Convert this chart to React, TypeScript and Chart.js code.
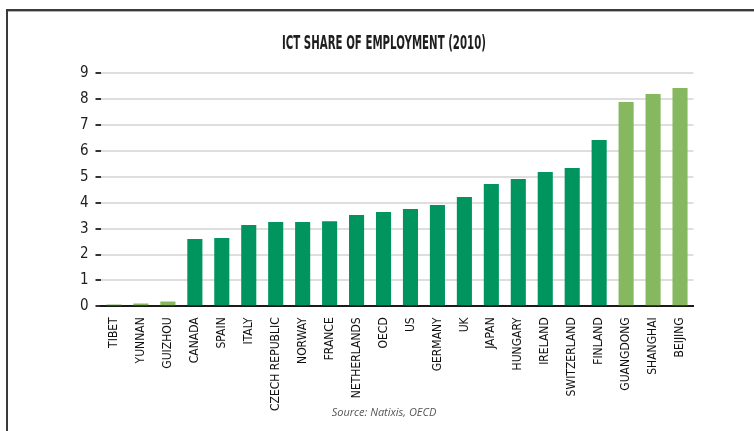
import React, { useEffect, useRef } from "react";
import { Chart, registerables } from "chart.js";

Chart.register(...registerables);

const categories = [
  "TIBET", "YUNNAN", "GUIZHOU", "CANADA", "SPAIN", "ITALY", "CZECH REPUBLIC",
  "NORWAY", "FRANCE", "NETHERLANDS", "OECD", "US", "GERMANY", "UK", "JAPAN",
  "HUNGARY", "IRELAND", "SWITZERLAND", "FINLAND", "GUANGDONG", "SHANGHAI", "BEIJING",
];
const values = [
  0.07, 0.11, 0.19, 2.6, 2.64, 3.14, 3.26, 3.26, 3.29, 3.53, 3.64, 3.76, 3.91,
  4.22, 4.72, 4.92, 5.19, 5.34, 6.42, 7.89, 8.2, 8.43,
];
const chineseRegions = ["TIBET", "YUNNAN", "GUIZHOU", "GUANGDONG", "SHANGHAI", "BEIJING"];
const yMin = 0;
const yMax = 9;
const yStep = 1;
const titleText = "ICT SHARE OF EMPLOYMENT (2010)";
const sourceText = "Source: Natixis, OECD";

const DARK_GREEN = "#00955f";
const LIGHT_GREEN = "#86b95f";
const NARROW = '"Liberation Sans Narrow", "DejaVu Sans Condensed", "Liberation Sans", sans-serif';

const decorPlugin = {
  id: "decor",
  beforeDraw(chart: any) {
    const ctx = chart.ctx;
    ctx.save();
    ctx.fillStyle = "#ffffff";
    ctx.fillRect(0, 0, chart.width, chart.height);
    ctx.fillStyle = "#3a3a3a";
    ctx.fillRect(6, 9, chart.width - 6, 2);
    ctx.fillRect(6, 9, 2, chart.height - 9);
    ctx.fillStyle = "#b0b0b0";
    ctx.fillRect(8, 11, chart.width - 8, 1);
    ctx.restore();
  },
  afterDraw(chart: any) {
    const ctx = chart.ctx;
    ctx.save();
    ctx.font = "bold 20px " + NARROW;
    ctx.fillStyle = "#1e1e1e";
    ctx.textAlign = "center";
    ctx.textBaseline = "middle";
    const w = ctx.measureText(titleText).width;
    const sx = Math.min(1, 204 / w);
    ctx.translate(384, 44);
    ctx.scale(sx, 1);
    ctx.fillText(titleText, 0, 0);
    ctx.restore();

    ctx.save();
    ctx.font = 'italic 11px "Open Sans", "DejaVu Sans", sans-serif';
    ctx.fillStyle = "#555555";
    ctx.textAlign = "center";
    ctx.textBaseline = "middle";
    ctx.fillText(sourceText, 384, 413);
    ctx.restore();
  },
};

export default function App() {
  const ref = useRef<HTMLCanvasElement | null>(null);

  useEffect(() => {
    if (!ref.current) return;
    const chart = new Chart(ref.current, {
      type: "bar",
      data: {
        labels: categories,
        datasets: [
          {
            data: values,
            backgroundColor: categories.map((c) =>
              chineseRegions.includes(c) ? LIGHT_GREEN : DARK_GREEN
            ),
            borderWidth: 0,
            barPercentage: 0.56,
            categoryPercentage: 1,
          },
        ],
      },
      options: {
        animation: false,
        responsive: false,
        devicePixelRatio: 1,
        layout: { padding: { left: 0, right: 60.5, top: 73.3, bottom: 0 } },
        plugins: {
          legend: { display: false },
          title: { display: false },
          tooltip: { enabled: false },
        },
        scales: {
          x: {
            grid: { display: false, drawTicks: false },
            border: { display: true, color: "#1a1a1a", width: 2 },
            ticks: {
              autoSkip: false,
              maxRotation: 90,
              minRotation: 90,
              padding: 11,
              color: "#111111",
              font: { family: NARROW, size: 12 },
            },
            afterFit(scale: any) {
              scale.height = 431 - 306.3;
            },
          },
          y: {
            min: yMin,
            max: yMax,
            ticks: {
              stepSize: yStep,
              padding: 7,
              color: "#1e1e1e",
              font: { family: NARROW, size: 15 },
            },
            grid: {
              color: "#dedede",
              lineWidth: 2,
              tickLength: 5,
              tickColor: "#333333",
              tickWidth: 2,
            },
            border: { display: false },
            afterFit(scale: any) {
              scale.width = 100.5;
            },
          },
        },
      },
      plugins: [decorPlugin],
    });
    return () => chart.destroy();
  }, []);

  return (
    <div style={{ position: "absolute", left: 0, top: 0, width: 754, height: 431 }}>
      <canvas ref={ref} width={754} height={431} style={{ display: "block" }} />
    </div>
  );
}
